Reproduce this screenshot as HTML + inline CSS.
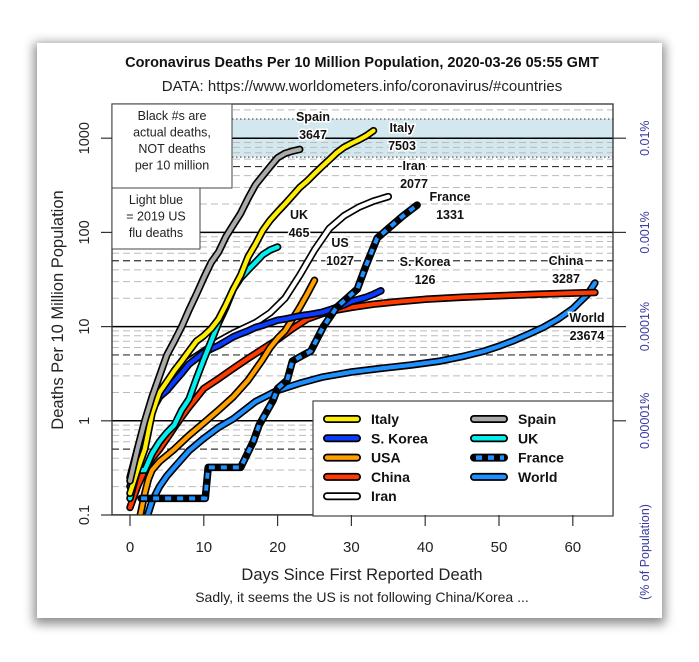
<!DOCTYPE html>
<html><head><meta charset="utf-8">
<style>
html,body{margin:0;padding:0;background:#fff;}
body{width:699px;height:662px;position:relative;overflow:hidden;font-family:"Liberation Sans",sans-serif;}
#card{position:absolute;left:37px;top:43px;width:625px;height:575px;background:#fff;box-shadow:0 3px 10px 3px rgba(0,0,0,0.45);}
svg{position:absolute;left:0;top:0;}
</style></head>
<body>
<div id="card"></div>
<svg id="chart" width="699" height="662" font-family="Liberation Sans, sans-serif"></svg>
<script>
const xTicks=[0,10,20,30,40,50,60];
const yTicks=[0.1,1,10,100,1000];
const yTickLabels=["0.1","1","10","100","1000"];
const pctLabels=["0.00001%","0.0001%","0.001%","0.01%"];
const fluBand=[630,1600];
const italyDays=[0,1,2,3,4,5,6,7,8,9,10,11,12,13,14,15,16,17,18,19,20,21,22,23,24,25,26,27,28,29,30,31,32,33];
const italyVals=[0.17,0.3,0.5,1.2,2,2.6,3.4,4.3,5.5,7,8,9.5,12,17,25,35,55,75,105,135,165,200,245,300,350,420,500,590,700,800,880,960,1060,1200];
const spainDays=[0,1,2,3,4,5,6,7,8,9,10,11,12,13,14,15,16,17,18,19,20,21,22,23];
const spainVals=[0.23,0.5,1.0,1.8,3,5,7,10,15,22,33,48,62,90,120,160,230,320,400,500,620,690,730,760];
const ukDays=[0,1,2,3,4,5,6,7,8,9,10,11,12,13,14,15,16,17,18,19,20];
const ukVals=[0.15,0.3,0.3,0.45,0.6,0.75,0.9,1.3,1.7,2.8,4.5,7,11,16,25,33,40,48,58,65,70];
const koreaDays=[0,1,2,3,4,5,6,7,8,9,10,11,12,13,14,15,16,17,18,19,20,21,22,23,24,25,26,27,28,29,30,31,32,33,34];
const koreaVals=[0.2,0.4,0.8,1.3,1.8,2.1,2.6,3.2,4,4.6,5.3,5.8,6.3,7,7.8,8.4,9,9.8,10.3,11,11.7,12,12.5,13,13.3,13.7,14.2,15,16,17,18.5,19.5,20.5,22,24];
const chinaDays=[0,1,2,3,4,5,6,7,8,9,10,12,14,16,18,20,22,24,26,28,30,33,36,40,45,50,55,60,63];
const chinaVals=[0.12,0.2,0.3,0.4,0.5,0.65,0.85,1.1,1.4,1.75,2.2,2.8,3.6,4.6,5.8,7.3,9.5,12,13.7,15,16,17.3,18.3,19.5,20.5,21.3,22,22.7,23];
const usaDays=[1.4,2,2.5,3,4,6,8,10,12,14,16,18,19,20,21,22,23,24,25];
const usaVals=[0.1,0.17,0.24,0.3,0.37,0.5,0.7,0.95,1.3,1.8,2.7,4.5,6,7.5,9,12,16,22,31];
const iranDays=[0,1,2,3,4,5,6,7,8,10,12,14,17,19,21,23,25,27,29,31,33,35];
const iranVals=[0.25,0.5,0.9,1.3,1.8,2.3,3,3.6,4.3,5.5,7,8.5,11,14,20,35,65,110,150,185,215,240];
const franceDays=[1.5,10.2,10.6,15,16.7,17.5,19.4,20,21.3,22,23.5,24.5,26.2,28,30.8,32,33.5,35,37,38.9];
const franceVals=[0.15,0.15,0.32,0.32,0.6,0.9,1.66,2.2,2.7,4.3,5,5.5,10,16,25,45,87,110,150,195];
const worldDays=[2.4,3,4,5,6,8,10,12,14,17,20,23,26,30,34,38,42,45,48,50,52,54,56,58,60,62,63];
const worldVals=[0.1,0.14,0.2,0.26,0.32,0.48,0.65,0.85,1.05,1.6,2.1,2.5,2.9,3.3,3.6,3.9,4.3,4.8,5.5,6.2,7.1,8.3,9.8,12,15.5,22,29];

const PL=112,PR=613,PT=104,PB=515;
const X=d=>130+d*7.38;
const Y=v=>515-(Math.log10(v)+1)*94.2;
const svg=document.getElementById('chart');
const NS='http://www.w3.org/2000/svg';
function mk(tag,attrs,parent){const e=document.createElementNS(NS,tag);for(const k in attrs)e.setAttribute(k,attrs[k]);(parent||svg).appendChild(e);return e;}
function txt(s,attrs){const t=mk('text',attrs);t.textContent=s;return t;}

const defs=mk('defs',{});
const cp=mk('clipPath',{id:'pc'},defs);mk('rect',{x:PL,y:PT,width:PR-PL,height:PB-PT},cp);
const plot=mk('g',{'clip-path':'url(#pc)'});



const band=mk('rect',{x:PL,y:Y(fluBand[1]),width:PR-PL,height:Y(fluBand[0])-Y(fluBand[1]),fill:'#d3e7ef'},plot);


for(let e=-1;e<=3;e++){
  for(let m=2;m<=9;m++){
    const v=m*Math.pow(10,e);const y=Y(v);
    if(y<PT)continue;
    const g=mk('line',{x1:PL,x2:PR,y1:y,y2:y,stroke:m==5?'#333':'#bbb','stroke-width':m==5?1.2:1,'stroke-dasharray':'7,4'},plot);
    
    
  }
}
[fluBand[0],fluBand[1]].forEach(v=>{const l=mk('line',{x1:PL,x2:PR,y1:Y(v),y2:Y(v),stroke:'#333','stroke-width':1,'stroke-dasharray':'1.5,2.5'},plot);

});
yTicks.forEach(v=>{const l=mk('line',{x1:PL,x2:PR,y1:Y(v),y2:Y(v),stroke:'#000','stroke-width':1.5},plot);

});

function pathD(ds,vs){return ds.map((d,i)=>(i?'L':'M')+X(d).toFixed(1)+','+Y(vs[i]).toFixed(1)).join('');}
function series(name,ds,vs,col,dash){
  const g=mk('g',{},plot);
  
  
  const d=pathD(ds,vs);
  mk('path',{d:d,fill:'none',stroke:'#000','stroke-width':7.5,'stroke-linejoin':'round','stroke-linecap':'round'},g);
  const a={d:d,fill:'none',stroke:col,'stroke-width':dash?4:4.2,'stroke-linejoin':'round','stroke-linecap':dash?'butt':'round'};
  if(dash)a['stroke-dasharray']='6,6';
  mk('path',a,g);
}
series('world',worldDays,worldVals,'#1e90ff');
series('china',chinaDays,chinaVals,'#ff3a00');
series('usa',usaDays,usaVals,'#ffa000');
series('iran',iranDays,iranVals,'#ffffff');
series('s-korea',koreaDays,koreaVals,'#0a3cff');
series('france',franceDays,franceVals,'#1e90ff',true);
series('uk',ukDays,ukVals,'#00f0f0');
series('italy',italyDays,italyVals,'#ffee00');
series('spain',spainDays,spainVals,'#aaaaaa');

const bd=mk('rect',{x:PL,y:PT,width:PR-PL,height:PB-PT,fill:'none',stroke:'#333','stroke-width':1.3});



const labels=[["Spain","3647",313,117],["Italy","7503",402,128],["Iran","2077",414,166],["France","1331",450,197],["UK","465",299,215],["US","1027",340,243],["S. Korea","126",425,262],["China","3287",566,261],["World","23674",587,318]];
labels.forEach(l=>{
  [l[0],l[1]].forEach((s,i)=>{
    const t=txt(s,{x:l[2],y:l[3]+i*18+4,'text-anchor':'middle','font-size':12.5,'font-weight':'bold',fill:'#111',stroke:'#fff','stroke-width':3,'paint-order':'stroke'});
    
    
  });
});

function box(x,y,w,h,lines,name){
  const g=mk('g',{});
  
  
  mk('rect',{x:x,y:y,width:w,height:h,fill:'#fff',stroke:'#444','stroke-width':1},g);
  lines.forEach((s,i)=>{const t=mk('text',{x:x+w/2,y:y+16+i*16.5,'text-anchor':'middle','font-size':12.5,fill:'#222'},g);t.textContent=s;});
}
box(112,104,120,84,["Black #s are","actual deaths,","NOT deaths","per 10 million"],'note-actual-deaths');
box(112,188,88,61,["Light blue","= 2019 US","flu deaths"],'note-flu-band');

const lg=mk('g',{});


mk('rect',{x:313,y:401,width:300,height:115,fill:'#fff',stroke:'#444','stroke-width':1.2},lg);
const legNames=["Italy","S. Korea","USA","China","Iran","Spain","UK","France","World"];
const legCols=["#ffee00","#0a3cff","#ffa000","#ff3a00","#ffffff","#aaaaaa","#00f0f0","#1e90ff","#1e90ff"];
legNames.forEach((n,i)=>{
  const col=i<5?0:1,row=i<5?i:i-5;
  const x=327+col*147,y=419+row*19.3;
  const e=mk('g',{},lg);
  
  
  mk('line',{x1:x,x2:x+30,y1:y,y2:y,stroke:'#000','stroke-width':8,'stroke-linecap':'round'},e);
  const a={x1:x,x2:x+30,y1:y,y2:y,stroke:legCols[i],'stroke-width':4.5,'stroke-linecap':'round'};
  if(n==="France"){a['stroke-dasharray']='6,6';a['stroke-linecap']='butt';a.x1=x+2;}
  mk('line',a,e);
  const t=mk('text',{x:x+44,y:y+5,'font-size':14,'font-weight':'bold',fill:'#111'},e);t.textContent=n;
});

xTicks.forEach(d=>{
  const l=mk('line',{x1:X(d),x2:X(d),y1:PB,y2:PB+11,stroke:'#333','stroke-width':1.2});
  
  
  const t=txt(String(d),{x:X(d),y:552,'text-anchor':'middle','font-size':15,fill:'#222'});
  
  
});
yTicks.forEach((v,i)=>{
  const y=Y(v);
  const l=mk('line',{x1:101,x2:PL,y1:y,y2:y,stroke:'#333','stroke-width':1.2});
  
  
  const t=txt(yTickLabels[i],{x:89,y:y,'text-anchor':'middle','font-size':14.5,fill:'#222',transform:`rotate(-90 89 ${y})`});
  
  
});
pctLabels.forEach((s,i)=>{
  const y=Y(yTicks[i+1]);
  const l=mk('line',{x1:PR,x2:626,y1:y,y2:y,stroke:'#333','stroke-width':1.2});
  
  
  const t=txt(s,{x:649,y:y,'text-anchor':'middle','font-size':12.5,fill:'#3a3aa0',transform:`rotate(-90 649 ${y})`});
  
  
});
let t;
t=txt("(% of Population)",{x:649,y:552,'text-anchor':'middle','font-size':12.5,fill:'#3a3aa0',transform:'rotate(-90 649 552)'});


t=txt("Deaths Per 10 Million Population",{x:63,y:310,'text-anchor':'middle','font-size':16.5,fill:'#222',transform:'rotate(-90 63 310)'});


t=txt("Days Since First Reported Death",{x:362,y:580,'text-anchor':'middle','font-size':16.5,fill:'#222'});


t=txt("Sadly, it seems the US is not following China/Korea ...",{x:362,y:602,'text-anchor':'middle','font-size':14,fill:'#222'});


t=txt("Coronavirus Deaths Per 10 Million Population, 2020-03-26 05:55 GMT",{x:362,y:67,'text-anchor':'middle','font-size':14.5,'font-weight':'bold',fill:'#111'});


t=txt("DATA: https://www.worldometers.info/coronavirus/#countries",{x:362,y:91,'text-anchor':'middle','font-size':15,fill:'#222'});


</script>
</body></html>
